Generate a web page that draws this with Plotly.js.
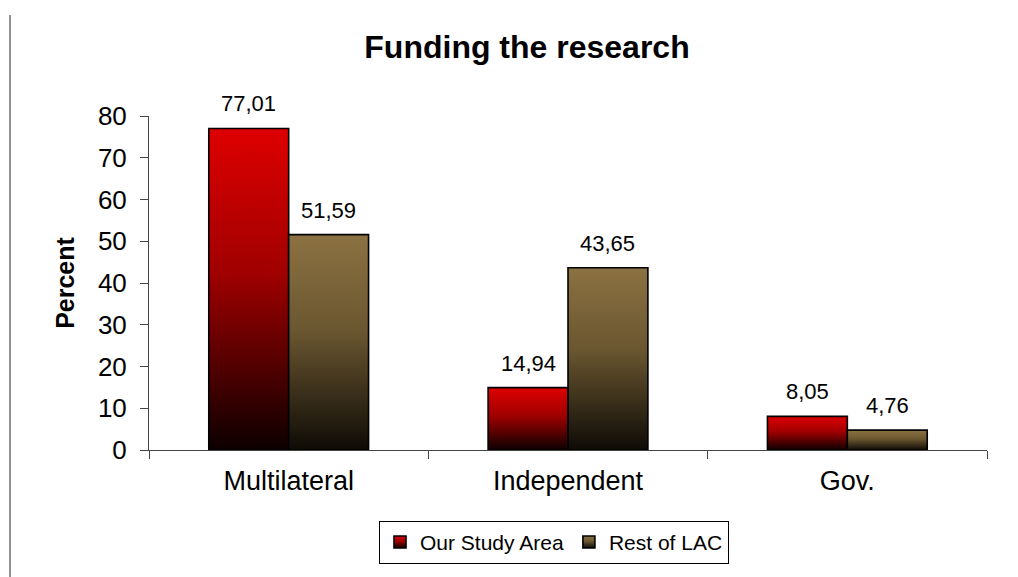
<!DOCTYPE html>
<html>
<head>
<meta charset="utf-8">
<script src="https://cdn.plot.ly/plotly-3.0.1.min.js"></script>
<style>
  html, body { margin: 0; padding: 0; background: #fff; }
  #chart { width: 1018px; height: 577px; }
</style>
</head>
<body>
<div id="chart"></div>
<script>
// ---- data ----
const categories = ["Multilateral", "Independent", "Gov."];
const studyArea = [77.01, 14.94, 8.05];
const restOfLAC = [51.59, 43.65, 4.76];
const seriesNames = ["Our Study Area", "Rest of LAC"];
const yTicks = [0, 10, 20, 30, 40, 50, 60, 70, 80];

const FONT = "Arial, 'Liberation Sans', sans-serif";
const bargap = 0.428;
const barW = (1 - bargap) / 2;

const traces = [
  {
    type: "bar", name: seriesNames[0], x: categories, y: studyArea,
    marker: { color: "#b00000", line: { color: "#000", width: 1.6 } },
    hoverinfo: "none"
  },
  {
    type: "bar", name: seriesNames[1], x: categories, y: restOfLAC,
    marker: { color: "#6e5a32", line: { color: "#000", width: 1.6 } },
    hoverinfo: "none"
  }
];

// value labels above bars
const annotations = [];
[studyArea, restOfLAC].forEach((vals, s) => {
  vals.forEach((v, i) => {
    annotations.push({
      xref: "x", yref: "y",
      x: i + (s === 0 ? -barW / 2 : barW / 2),
      y: v,
      text: v.toFixed(2).replace(".", ","),
      showarrow: false,
      yanchor: "bottom",
      yshift: 10,
      font: { family: FONT, size: 22, color: "#000" }
    });
  });
});

const layout = {
  width: 1018, height: 577,
  margin: { l: 149, r: 31, t: 116, b: 127 },
  paper_bgcolor: "#fff", plot_bgcolor: "#fff",
  font: { family: FONT, color: "#000" },
  title: {
    text: "<b>Funding the research</b>",
    font: { family: FONT, size: 32, color: "#000" },
    x: 527 / 1018, xanchor: "center", xref: "container",
    y: 1 - 47 / 577, yanchor: "middle", yref: "container"
  },
  barmode: "group",
  bargap: bargap,
  bargroupgap: 0,
  xaxis: {
    type: "category",
    showline: true, linecolor: "#444", linewidth: 1,
    ticks: "outside", tickson: "boundaries", ticklen: 8, tickcolor: "#444",
    tickfont: { family: FONT, size: 27, color: "#000" },
    ticklabelstandoff: 7,
    showgrid: false, zeroline: false, fixedrange: true
  },
  yaxis: {
    range: [0, 80], tickvals: yTicks, ticktext: yTicks.map(String),
    showline: true, linecolor: "#444", linewidth: 1,
    ticks: "outside", ticklen: 8, tickcolor: "#444",
    tickfont: { family: FONT, size: 26, color: "#000" },
    ticklabelstandoff: 8,
    showgrid: false, zeroline: false, fixedrange: true,
    title: { text: "<b>Percent</b>", font: { family: FONT, size: 25, color: "#000" }, standoff: 16 }
  },
  showlegend: true,
  legend: {
    orientation: "h",
    x: (554 - 149) / 838, xanchor: "center",
    y: -0.212, yanchor: "top",
    bordercolor: "#000", borderwidth: 1, bgcolor: "#fff",
    font: { family: FONT, size: 21, color: "#000" },
    itemwidth: 30, tracegroupgap: 0,
    traceorder: "normal"
  },
  annotations: annotations,
  shapes: [
    {
      type: "line", xref: "paper", yref: "paper",
      x0: (10 - 149) / 838, x1: (10 - 149) / 838,
      y0: (450 - 15) / 334, y1: (450 - 577) / 334,
      line: { color: "#222", width: 1 }
    }
  ]
};

Plotly.newPlot("chart", traces, layout, { staticPlot: true, displayModeBar: false }).then(gd => {
  const svg = gd.querySelector(".main-svg");
  const NS = "http://www.w3.org/2000/svg";
  let defs = svg.querySelector("defs");
  if (!defs) { defs = document.createElementNS(NS, "defs"); svg.insertBefore(defs, svg.firstChild); }
  const grads = [
    { id: "gradRed", stops: [["0%", "#de0000"], ["45%", "#a00000"], ["100%", "#0c0000"]] },
    { id: "gradBrown", stops: [["0%", "#8c7242"], ["45%", "#6a5630"], ["100%", "#0e0b06"]] }
  ];
  grads.forEach(g => {
    const lg = document.createElementNS(NS, "linearGradient");
    lg.setAttribute("id", g.id);
    lg.setAttribute("x1", "0"); lg.setAttribute("y1", "0");
    lg.setAttribute("x2", "0"); lg.setAttribute("y2", "1");
    g.stops.forEach(([o, c]) => {
      const st = document.createElementNS(NS, "stop");
      st.setAttribute("offset", o);
      st.setAttribute("stop-color", c);
      lg.appendChild(st);
    });
    defs.appendChild(lg);
  });
  const barGroups = gd.querySelectorAll(".barlayer .trace.bars");
  barGroups.forEach((g, i) => {
    g.querySelectorAll("path").forEach(p => { p.style.fill = "url(#" + grads[i].id + ")"; });
  });
  const legendTraces = gd.querySelectorAll(".legend .traces");
  legendTraces.forEach((t, i) => {
    t.querySelectorAll(".legendpoints path").forEach(p => { p.style.fill = "url(#" + grads[i].id + ")"; });
  });
});
</script>
</body>
</html>
